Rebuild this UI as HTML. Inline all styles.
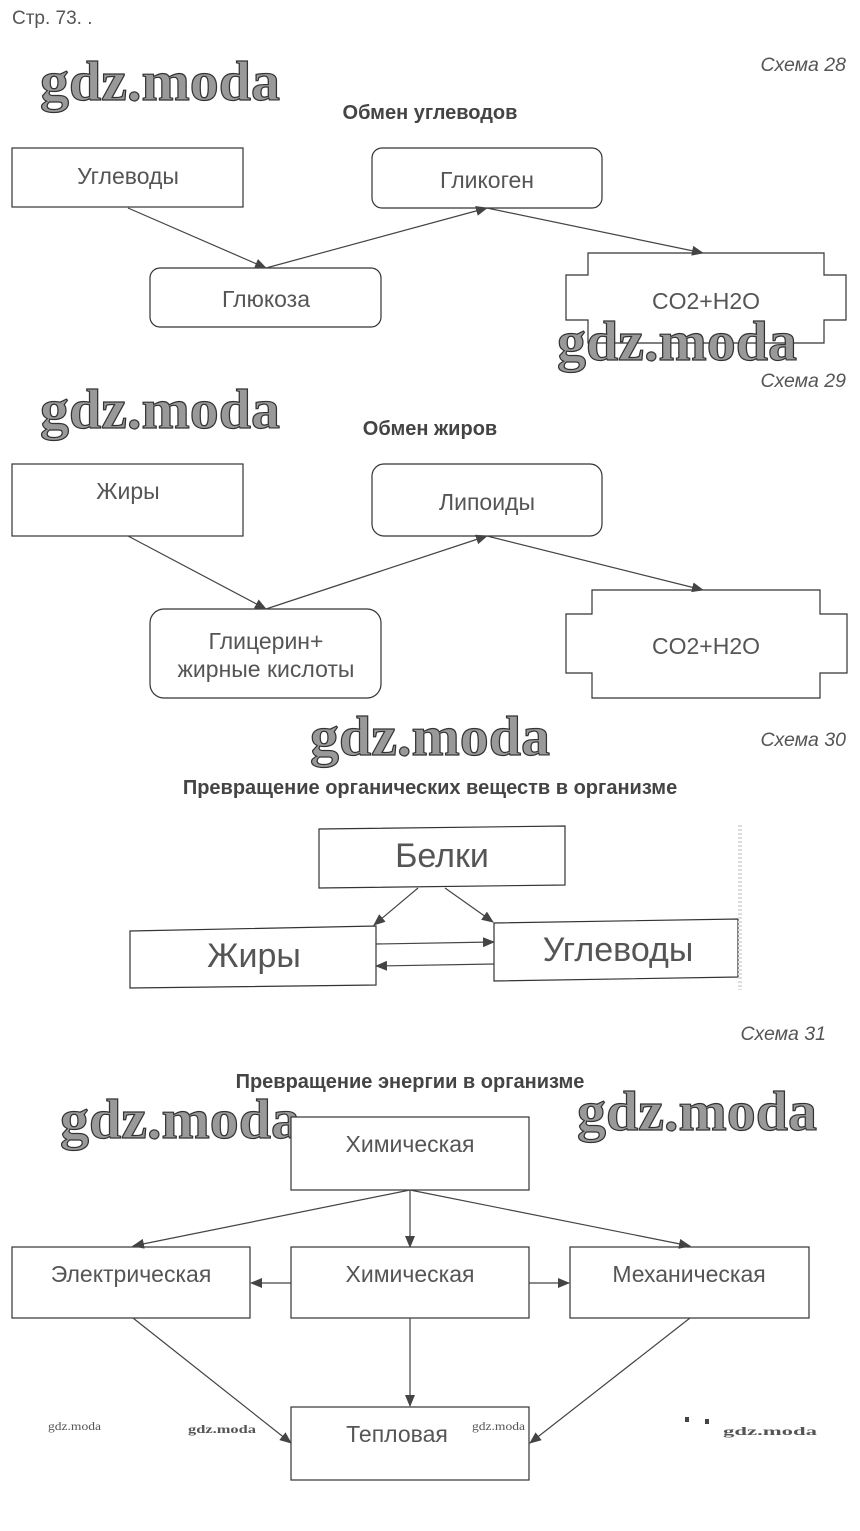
<!DOCTYPE html>
<html><head><meta charset="utf-8"><style>
html,body{margin:0;padding:0;background:#fff;}
svg{display:block}
.t{font-family:"Liberation Sans",sans-serif;fill:#555;}
.b{font-family:"Liberation Sans",sans-serif;font-weight:bold;fill:#444;font-size:20px;}
.s{font-family:"Liberation Sans",sans-serif;font-style:italic;fill:#555;font-size:19.5px;}
.w{font-family:"Liberation Serif",serif;font-weight:bold;fill:#999;stroke:#333;stroke-width:1.2;font-size:56px;}
.ws{font-family:"Liberation Serif",serif;fill:#555;font-size:12px;}
.n{fill:#fff;stroke:#333;stroke-width:1.2}
.l{stroke:#444;stroke-width:1.2;fill:none;marker-end:url(#a)}
</style></head><body>
<svg width="860" height="1531" viewBox="0 0 860 1531" xmlns="http://www.w3.org/2000/svg">
<defs><marker id="a" markerWidth="12" markerHeight="10" refX="11" refY="5" orient="auto" markerUnits="userSpaceOnUse"><path d="M0,0 L12,5 L0,10 Z" fill="#444"/></marker></defs>
<text x="12" y="24" class="t" font-size="19" fill="#333">Стр. 73. .</text>

<!-- Схема 28 -->
<text x="846" y="71" class="s" text-anchor="end">Схема 28</text>
<text x="430" y="119" class="b" text-anchor="middle">Обмен углеводов</text>
<rect x="12" y="148" width="231" height="59" class="n"/>
<text x="128" y="184" class="t" font-size="23" text-anchor="middle">Углеводы</text>
<rect x="372" y="148" width="230" height="60" rx="10" class="n"/>
<text x="487" y="188" class="t" font-size="23" text-anchor="middle">Гликоген</text>
<rect x="150" y="268" width="231" height="59" rx="10" class="n"/>
<text x="266" y="307" class="t" font-size="23" text-anchor="middle">Глюкоза</text>
<path d="M588,253 H824 V275 H846 V320 H824 V343 H588 V320 H566 V275 H588 Z" class="n"/>
<text x="706" y="309" class="t" font-size="23" text-anchor="middle">CO2+H2O</text>
<line x1="128" y1="208" x2="266" y2="268" class="l"/>
<line x1="266" y1="268" x2="487" y2="208" class="l"/>
<line x1="487" y1="208" x2="703" y2="253" class="l"/>
<text x="40" y="100" class="w" textLength="240" lengthAdjust="spacingAndGlyphs">gdz.moda</text>
<text x="557" y="360" class="w" textLength="240" lengthAdjust="spacingAndGlyphs">gdz.moda</text>

<!-- Схема 29 -->
<text x="846" y="387" class="s" text-anchor="end">Схема 29</text>
<text x="430" y="435" class="b" text-anchor="middle">Обмен жиров</text>
<text x="40" y="428" class="w" textLength="240" lengthAdjust="spacingAndGlyphs">gdz.moda</text>
<rect x="12" y="464" width="231" height="72" class="n"/>
<text x="128" y="499" class="t" font-size="23" text-anchor="middle">Жиры</text>
<rect x="372" y="464" width="230" height="72" rx="12" class="n"/>
<text x="487" y="510" class="t" font-size="23" text-anchor="middle">Липоиды</text>
<rect x="150" y="609" width="231" height="89" rx="14" class="n"/>
<text x="266" y="649" class="t" font-size="23" text-anchor="middle">Глицерин+</text>
<text x="266" y="677" class="t" font-size="23" text-anchor="middle">жирные кислоты</text>
<path d="M592,590 H820 V614 H847 V673 H820 V698 H592 V673 H566 V614 H592 Z" class="n"/>
<text x="706" y="654" class="t" font-size="23" text-anchor="middle">CO2+H2O</text>
<line x1="128" y1="536" x2="266" y2="609" class="l"/>
<line x1="266" y1="609" x2="487" y2="536" class="l"/>
<line x1="487" y1="536" x2="703" y2="590" class="l"/>

<!-- Схема 30 -->
<text x="310" y="755" class="w" textLength="240" lengthAdjust="spacingAndGlyphs">gdz.moda</text>
<text x="846" y="746" class="s" text-anchor="end">Схема 30</text>
<text x="430" y="794" class="b" text-anchor="middle">Превращение органических веществ в организме</text>
<path d="M319,829 L565,826 L565,885 L319,888 Z" class="n"/>
<text x="442" y="867" class="t" font-size="34" text-anchor="middle">Белки</text>
<path d="M130,931 L376,926 L376,985 L130,988 Z" class="n"/>
<text x="254" y="967" class="t" font-size="34" text-anchor="middle">Жиры</text>
<path d="M494,923 L738,919 L738,977 L494,981 Z" class="n" stroke-width="1.8"/>
<text x="618" y="961" class="t" font-size="34" text-anchor="middle">Углеводы</text>
<line x1="418" y1="888" x2="374" y2="925" class="l"/>
<line x1="445" y1="888" x2="493" y2="922" class="l"/>
<line x1="376" y1="944" x2="494" y2="942" class="l"/>
<line x1="494" y1="964" x2="376" y2="966" class="l"/>
<line x1="740" y1="825" x2="740" y2="990" stroke="#ddd" stroke-width="4" stroke-dasharray="2,2"/>

<!-- Схема 31 -->
<text x="826" y="1040" class="s" text-anchor="end">Схема 31</text>
<text x="410" y="1088" class="b" text-anchor="middle">Превращение энергии в организме</text>
<text x="60" y="1138" class="w" textLength="240" lengthAdjust="spacingAndGlyphs">gdz.moda</text>
<text x="577" y="1130" class="w" textLength="240" lengthAdjust="spacingAndGlyphs">gdz.moda</text>
<rect x="291" y="1117" width="238" height="73" class="n"/>
<text x="410" y="1152" class="t" font-size="23" text-anchor="middle">Химическая</text>
<rect x="12" y="1247" width="238" height="71" class="n"/>
<text x="131" y="1282" class="t" font-size="23" text-anchor="middle">Электрическая</text>
<rect x="291" y="1247" width="238" height="71" class="n"/>
<text x="410" y="1282" class="t" font-size="23" text-anchor="middle">Химическая</text>
<rect x="570" y="1247" width="239" height="71" class="n"/>
<text x="689" y="1282" class="t" font-size="23" text-anchor="middle">Механическая</text>
<rect x="291" y="1407" width="238" height="73" class="n"/>
<text x="397" y="1442" class="t" font-size="23" text-anchor="middle">Тепловая</text>
<line x1="410" y1="1190" x2="410" y2="1247" class="l"/>
<line x1="410" y1="1190" x2="133" y2="1246" class="l"/>
<line x1="410" y1="1190" x2="690" y2="1246" class="l"/>
<line x1="291" y1="1283" x2="251" y2="1283" class="l"/>
<line x1="529" y1="1283" x2="569" y2="1283" class="l"/>
<line x1="410" y1="1318" x2="410" y2="1406" class="l"/>
<line x1="133" y1="1318" x2="291" y2="1443" class="l"/>
<line x1="690" y1="1318" x2="530" y2="1443" class="l"/>
<text x="48" y="1430" class="ws" textLength="53" lengthAdjust="spacingAndGlyphs">gdz.moda</text>
<text x="188" y="1433" class="ws" font-size="16" font-weight="bold" fill="#666" textLength="68" lengthAdjust="spacingAndGlyphs">gdz.moda</text>
<text x="472" y="1430" class="ws" textLength="53" lengthAdjust="spacingAndGlyphs">gdz.moda</text>
<rect x="685" y="1417" width="4" height="5" fill="#444"/><rect x="705" y="1419" width="4" height="5" fill="#444"/>
<text x="723" y="1435" class="ws" font-size="22" font-weight="bold" fill="#777" textLength="94" lengthAdjust="spacingAndGlyphs">gdz.moda</text>
</svg>
</body></html>
